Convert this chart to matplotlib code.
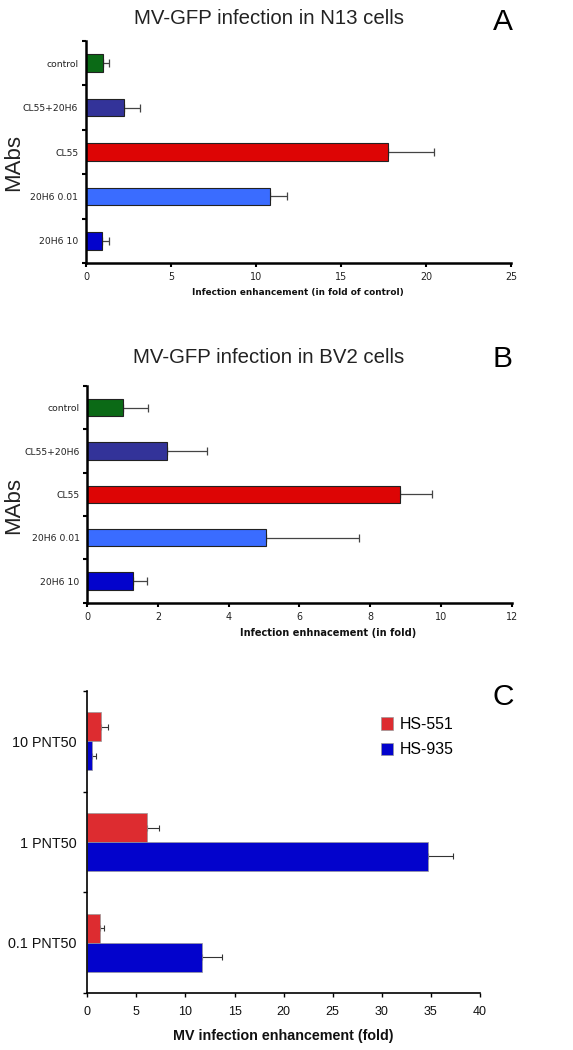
import numpy as np
import matplotlib
matplotlib.use("Agg")
import matplotlib.pyplot as plt
from matplotlib.ticker import FixedLocator

# panel A / B categories (top to bottom)
mabs = ["control", "CL55+20H6", "CL55", "20H6 0.01", "20H6 10"]
mab_colors = ["#0b6a16", "#333399", "#dd0505", "#3a6cff", "#0303cc"]

n13_mean = [1.0, 2.22, 17.74, 10.84, 0.96]
n13_err = [0.35, 0.98, 2.73, 1.0, 0.39]

bv2_mean = [1.01, 2.25, 8.84, 5.05, 1.28]
bv2_err = [0.71, 1.14, 0.91, 2.62, 0.41]

# panel C
doses = ["10 PNT50", "1 PNT50", "0.1 PNT50"]
hs551_mean = [1.4, 6.11, 1.33]
hs551_err = [0.67, 1.19, 0.34]
hs935_mean = [0.51, 34.73, 11.68]
hs935_err = [0.38, 2.57, 2.0]

W, H = 573, 1050
fig = plt.figure(figsize=(W / 100, H / 100), dpi=100)

def fx(px):
    return px / W

def fy(py):
    return 1 - py / H

def mab_panel(rect, means, errs, xmax, step, xlabel, xlsize, title, tpos, letter, lpos, xlpos):
    ax = fig.add_axes(rect)
    y = np.arange(len(mabs))
    ax.barh(y, means, height=0.4, color=mab_colors, edgecolor="#222222", linewidth=0.8, zorder=2)
    ax.errorbar(means, y, xerr=[np.zeros(len(errs)), errs], fmt="none",
                ecolor="#444444", elinewidth=0.9, capsize=3, capthick=0.9, zorder=1)
    ax.set_ylim(len(mabs) - 0.5, -0.5)
    ax.set_xlim(0, xmax)
    ax.set_yticks(y)
    ax.set_yticklabels(mabs, fontsize=6.7, family="DejaVu Sans", color="#222222")
    ax.yaxis.set_minor_locator(FixedLocator(np.arange(-0.5, len(mabs), 1.0)))
    ax.tick_params(axis="y", which="major", length=0, pad=5.5)
    ax.tick_params(axis="y", which="minor", length=2.6, width=1.5, direction="out")
    ax.set_xticks(np.arange(0, xmax + 0.01, step))
    ax.tick_params(axis="x", length=2.8, width=1.5, labelsize=6.9, pad=4, labelcolor="#222222")
    for s in ["top", "right"]:
        ax.spines[s].set_visible(False)
    for s in ["left", "bottom"]:
        ax.spines[s].set_linewidth(1.8)
    fig.text(xlpos[0], xlpos[1], xlabel, fontsize=xlsize, fontweight="bold",
             family="DejaVu Sans", ha="center", va="center", color="#111111")
    fig.text(tpos[0], tpos[1], title, fontsize=14.7, family="Liberation Sans",
             ha="center", va="center", color="#222222")
    fig.text(lpos[0], lpos[1], letter, fontsize=21.5, family="Liberation Sans",
             ha="center", va="center")
    return ax

mab_panel([fx(86), fy(263), fx(511) - fx(86), fy(41) - fy(263)], n13_mean, n13_err, 25, 5,
          "Infection enhancement (in fold of control)", 6.4, "MV-GFP infection in N13 cells",
          (fx(269), fy(18)), "A", (fx(503), fy(22)), (fx(298), fy(292)))
fig.text(fx(14), fy(163), "MAbs", fontsize=16, family="Liberation Sans", rotation=90,
         ha="center", va="center", color="#222222")

mab_panel([fx(87.3), fy(602.7), fx(511.7) - fx(87.3), fy(386) - fy(602.7)], bv2_mean, bv2_err, 12, 2,
          "Infection enhnacement (in fold)", 7.1, "MV-GFP infection in BV2 cells",
          (fx(269), fy(358)), "B", (fx(503), fy(359)), (fx(328), fy(633)))
fig.text(fx(14), fy(505), "MAbs", fontsize=16, family="Liberation Sans", rotation=90,
         ha="center", va="center", color="#222222")

# panel C
axc = fig.add_axes([fx(87.3), fy(993.3), fx(480) - fx(87.3), fy(690.7) - fy(993.3)])
yc = np.arange(len(doses))
bh = 0.285
axc.barh(yc - bh / 2, hs551_mean, height=bh, color="#dd2c30", edgecolor="#999999", linewidth=0.5,
         label="HS-551", zorder=2)
axc.barh(yc + bh / 2, hs935_mean, height=bh, color="#0303cc", edgecolor="#999999", linewidth=0.5,
         label="HS-935", zorder=2)
axc.errorbar(hs551_mean, yc - bh / 2, xerr=[np.zeros(3), hs551_err], fmt="none",
             ecolor="#333333", elinewidth=0.8, capsize=2.5, capthick=0.8, zorder=1)
axc.errorbar(hs935_mean, yc + bh / 2, xerr=[np.zeros(3), hs935_err], fmt="none",
             ecolor="#333333", elinewidth=0.8, capsize=2.5, capthick=0.8, zorder=1)
axc.set_ylim(len(doses) - 0.5, -0.5)
axc.set_xlim(0, 40)
axc.set_yticks(yc)
axc.set_yticklabels(doses, fontsize=10.4, family="Liberation Sans", color="#111111")
axc.yaxis.set_minor_locator(FixedLocator(np.arange(-0.5, len(doses), 1.0)))
axc.tick_params(axis="y", which="major", length=0, pad=7.6)
axc.tick_params(axis="y", which="minor", length=3, width=1.0, direction="out")
axc.set_xticks(np.arange(0, 41, 5))
axc.tick_params(axis="x", length=3, width=1.0, pad=6)
for lab in axc.get_xticklabels():
    lab.set_family("Liberation Sans")
    lab.set_fontsize(9)
    lab.set_color("#111111")
for s in ["top", "right"]:
    axc.spines[s].set_visible(False)
for s in ["left", "bottom"]:
    axc.spines[s].set_linewidth(1.2)
axc.set_xlabel("MV infection enhancement (fold)", fontsize=10.3, fontweight="bold",
               family="Liberation Sans", labelpad=8, color="#111111")
axc.legend(loc="upper left", bbox_to_anchor=(fx(380.7), fy(717)), bbox_transform=fig.transFigure,
           frameon=False, borderpad=0, borderaxespad=0,
           prop={"family": "Liberation Sans", "size": 11.4}, handlelength=0.76, handleheight=0.82,
           handletextpad=0.46, labelspacing=0.65)
fig.text(fx(503), fy(697), "C", fontsize=21.5, family="Liberation Sans", ha="center", va="center")

fig.savefig("out.png", dpi=100)
